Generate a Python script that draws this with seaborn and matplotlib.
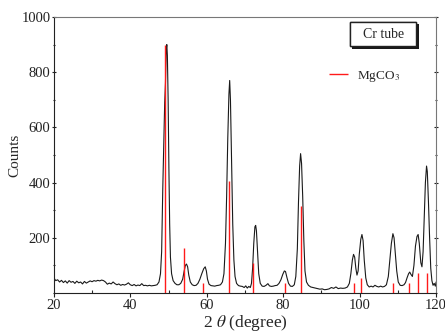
import matplotlib
matplotlib.use('Agg')
import matplotlib.pyplot as plt
import matplotlib.patheffects as pe
from matplotlib.ticker import MultipleLocator
import numpy as np
import pandas as pd
import seaborn as sns

### Data

# measured XRD pattern (2 theta, counts)
two_theta = [20, 20.5, 21, 21.5, 22, 22.5, 23, 23.5, 24, 24.5, 25, 25.5, 26, 26.5, 27, 27.5,
             28, 28.5, 29, 29.5, 30, 30.5, 31, 31.5, 32, 32.5, 33, 33.5, 34, 34.5, 35, 35.5,
             36, 36.5, 37, 37.5, 38, 38.5, 39, 39.5, 40, 40.5, 41, 41.5, 42, 42.5, 43, 43.5,
             44, 44.5, 45, 45.5, 46, 46.5, 47,
             47.5, 47.9, 48.2, 48.5, 48.8, 49.0, 49.2, 49.4, 49.55, 49.7, 49.9, 50.1, 50.3, 50.5,
             50.8, 51.2, 51.7, 52.2, 52.7, 53.2, 53.7, 54.1, 54.4, 54.7, 55.0, 55.3, 55.7, 56.2,
             56.7, 57.2, 57.7, 58.2, 58.7, 59.2, 59.6, 59.9, 60.2, 60.6, 61.1, 61.6, 62.1, 62.6,
             63.1, 63.6, 64.1, 64.5, 64.9, 65.2, 65.5, 65.8, 66.0, 66.2, 66.5, 66.8, 67.1, 67.4,
             67.8, 68.3, 68.8, 69.3, 69.8, 70.2, 70.6, 71.0, 71.4, 71.7, 72.0, 72.3, 72.6, 72.8,
             73.0, 73.3, 73.6, 74.0, 74.5, 75.0, 75.5, 76.0, 76.4, 76.9, 77.4, 77.9, 78.4, 78.9,
             79.4, 79.9, 80.3, 80.6, 81.0, 81.4, 81.9, 82.4, 82.9, 83.3, 83.7, 84.0, 84.3, 84.55,
             84.8, 85.1, 85.4, 85.7, 86.1, 86.6, 87.2, 87.8, 88.4, 89.0, 89.6, 90.2, 90.8, 91.4,
             92.0, 92.6, 93.2, 93.8, 94.4, 95.0, 95.6, 96.2, 96.8, 97.3, 97.7, 98.1, 98.4, 98.7,
             99.0, 99.3, 99.6, 99.9, 100.3, 100.6, 100.9, 101.2, 101.6, 102.0, 102.5, 103.0, 103.5,
             104.0, 104.5, 105.0, 105.5, 106.0, 106.5, 107.0, 107.5, 107.9, 108.3, 108.7, 109.0,
             109.3, 109.7, 110.1, 110.6, 111.1, 111.6, 112.0, 112.4, 112.8, 113.1, 113.4, 113.8,
             114.2, 114.6, 115.0, 115.3, 115.6, 116.0, 116.3, 116.6, 116.9, 117.2, 117.5, 117.7,
             118.0, 118.3, 118.6, 118.9, 119.2, 119.5, 119.8, 120.0]
counts = [55, 45, 48, 40, 46, 38, 44, 36, 45, 39, 42, 35, 43, 37, 40, 33,
          42, 36, 40, 44, 41, 45, 43, 46, 44, 47, 45, 40, 32, 36, 33, 40,
          34, 30, 33, 28, 31, 29, 32, 37, 30, 27, 31, 26, 29, 27, 34, 27,
          28, 26, 28, 26, 27, 28, 30,
          40, 70, 150, 380, 560, 690, 760, 880, 900, 860, 700, 450, 250, 130,
          70, 45, 35, 30, 30, 35, 50, 80, 100, 105, 95, 65, 40, 30,
          27, 28, 35, 50, 70, 88, 95, 80, 50, 32, 27, 26, 25, 27,
          28, 30, 40, 70, 180, 350, 560, 720, 770, 700, 480, 250, 120, 60,
          35, 27, 25, 24, 20, 26, 18, 24, 20, 35, 90, 180, 240, 245,
          225, 150, 70, 35, 25, 24, 28, 34, 26, 24, 25, 27, 28, 35,
          48, 68, 80, 78, 55, 35, 25, 24, 30, 60, 160, 330, 460, 505,
          470, 350, 190, 80, 40, 28, 22, 20, 18, 16, 14, 15, 12, 13,
          15, 20, 17, 22, 16, 18, 17, 18, 22, 35, 70, 120, 140, 130,
          90, 65, 80, 140, 195, 212, 190, 120, 55, 30, 22, 25, 22,
          28, 24, 22, 25, 22, 24, 30, 60, 120, 180, 215, 200,
          150, 80, 40, 28, 27, 30, 38, 55, 70, 76, 68, 60,
          100, 170, 205, 212, 180, 110, 95, 150, 280, 400, 460, 440,
          330, 200, 90, 45, 28, 35, 25, 40]

# MgCO3 reference sticks
ref_pos = [49.1, 54.1, 59.1, 65.7, 72.2, 80.6, 84.6, 98.4, 100.3, 108.8, 113.0, 115.3, 117.5]
ref_int = [900, 164, 37, 406, 110, 37, 315, 37, 55, 37, 37, 74, 74]

df = pd.DataFrame({'two_theta': two_theta, 'counts': counts})

sns.set_style('ticks')
plt.rcParams['font.family'] = ['Liberation Serif', 'DejaVu Serif']
plt.rcParams['mathtext.fontset'] = 'stix'

fig = plt.figure(figsize=(4.45, 3.33), dpi=100)
ax = fig.add_axes([0.121, 0.120, 0.859, 0.829])

# pattern
sns.lineplot(data=df, x='two_theta', y='counts', ax=ax, color='#1a1a1a', linewidth=0.8,
             sort=False, estimator=None)

# reference sticks
ax.vlines(ref_pos, 0, ref_int, color='#ff1a1a', linewidth=1.0, label='MgCO$_3$')

ax.set_xlim(20, 120)
ax.set_ylim(0, 1000)
ax.xaxis.set_major_locator(MultipleLocator(20))
ax.xaxis.set_minor_locator(MultipleLocator(10))
ax.yaxis.set_major_locator(MultipleLocator(200))
ax.yaxis.set_minor_locator(MultipleLocator(100))
ax.set_yticks([200, 400, 600, 800, 1000])
ax.tick_params(which='major', direction='out', length=3, width=0.8, labelsize=10.5, pad=1,
               colors='#222222')
ax.tick_params(which='minor', direction='in', length=2, width=0.8)
ax.tick_params(axis='y', which='both', right=True, direction='inout')

for side in ['top', 'right']:
    ax.spines[side].set_color('#777777')
for side in ['left', 'bottom']:
    ax.spines[side].set_color('#222222')

ax.set_xlabel('2 $\\theta$ (degree)', fontsize=12.5, labelpad=1)
ax.set_ylabel('Counts', fontsize=11, labelpad=0)

# "Cr tube" box with shadow
t = ax.text(0.862, 0.937, '  Cr tube  ', transform=ax.transAxes, ha='center', va='center',
            fontsize=10, bbox=dict(boxstyle='square,pad=0.4', fc='white', ec='#222222', lw=1.0))
t.get_bbox_patch().set_path_effects([pe.withSimplePatchShadow(offset=(1.5, -1.5),
                                                                 shadow_rgbFace='black', alpha=0.9),
                                     pe.Normal()])

ax.legend(loc='center left', bbox_to_anchor=(0.69, 0.785), frameon=False, fontsize=9.5,
          handlelength=1.4, handletextpad=0.7)

fig.savefig('out.png', dpi=100)
